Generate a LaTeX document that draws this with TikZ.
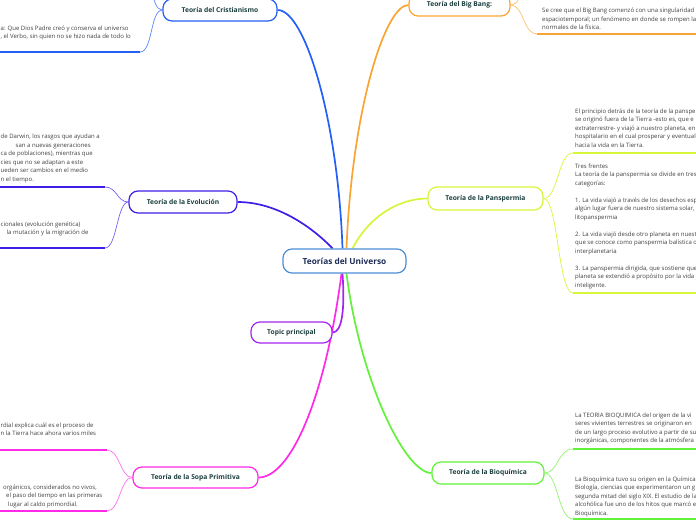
\documentclass[tikz,border=0pt]{standalone}
\usepackage{fontspec}
\setmainfont{Open Sans}
\usetikzlibrary{backgrounds}
\definecolor{cblue}{HTML}{2460F5}
\definecolor{cbluel}{HTML}{5E86F7}
\definecolor{corange}{HTML}{F9A534}
\definecolor{corangel}{HTML}{FBC06E}
\definecolor{cindigo}{HTML}{3E1FE8}
\definecolor{cindigol}{HTML}{7A62F2}
\definecolor{cyellow}{HTML}{D9F53A}
\definecolor{cpurple}{HTML}{A526F0}
\definecolor{cmagenta}{HTML}{FF2AE6}
\definecolor{cmagental}{HTML}{FF70EE}
\definecolor{cgreen}{HTML}{62F23A}
\definecolor{cgreenl}{HTML}{8EF56E}
\definecolor{ccenter}{HTML}{4A8FD4}
\definecolor{nodetext}{HTML}{1C3F3F}
\definecolor{centertext}{HTML}{1D2D55}
\definecolor{bodytext}{HTML}{404040}
\tikzset{
  topic/.style={draw, rounded corners=9pt, line width=1.2pt, fill=white,
    font=\fontsize{6.7}{8}\selectfont\bfseries, text=nodetext, inner sep=0pt,
    minimum height=22pt},
  body/.style={font=\fontsize{6}{8.5}\selectfont, text=bodytext, align=left,
    inner sep=0pt, anchor=north west},
  conn/.style={line width=1.7pt},
  sub/.style={line width=0.7pt},
  uline/.style={line width=1.8pt}
}
\begin{document}
\begin{tikzpicture}[x=1pt,y=-1pt]
\useasboundingbox (0,0) rectangle (696,520);
\node[topic, draw=ccenter, fill=white, minimum width=123pt, minimum height=24pt,
  font=\fontsize{8.3}{9}\selectfont\bfseries, text=centertext] (U) at (344.5,261) {Teorías del Universo};
\node[topic, draw=cblue, minimum width=114pt] (C) at (220,10) {Teoría del Cristianismo};
\node[topic, draw=corange, minimum width=101pt] (B) at (459.5,5) {Teoría del Big Bang:};
\node[topic, draw=cindigo, minimum width=108pt] (E) at (183,202) {Teoría de la Evolución};
\node[topic, draw=cyellow, minimum width=115pt, minimum height=23pt] (P) at (485.5,198.5) {Teoría de la Panspermia};
\node[topic, draw=cpurple, minimum width=81pt, minimum height=21pt] (T) at (291.5,332.5) {Topic principal};
\node[topic, draw=cmagenta, minimum width=125pt, minimum height=21pt] (S) at (195.5,477.5) {Teoría de la Sopa Primitiva};
\node[topic, draw=cgreen, minimum width=112pt] (Q) at (488,473) {Teoría de la Bioquímica};

% sub-branch coordinates
\coordinate (c1) at (140,52);   \coordinate (c0) at (0,52);
\coordinate (cu) at (140,-30);
\coordinate (b1) at (537,34);   \coordinate (b0) at (696,34);
\coordinate (bu) at (537,-30);
\coordinate (e1) at (105,187);  \coordinate (e0) at (0,187);
\coordinate (e2) at (105,248);  \coordinate (e3) at (0,248);
\coordinate (p1) at (573,153);  \coordinate (p0) at (696,153);
\coordinate (p2) at (573,293);  \coordinate (p3) at (696,293);
\coordinate (s1) at (107,450);  \coordinate (s0) at (0,450);
\coordinate (s2) at (107,511);  \coordinate (s3) at (0,511);
\coordinate (q1) at (573,449);  \coordinate (q0) at (696,449);
\coordinate (q2) at (573,519);  \coordinate (q3) at (696,519);

\begin{scope}[on background layer]
\clip (0,0) rectangle (696,520);
\draw[conn, cblue] ([xshift=-2pt]U.north) .. controls (338,120) and (305,10) .. (C.east);
\draw[conn, corange] ([xshift=2pt]U.north) .. controls (352,110) and (385,5) .. (B.west);
\draw[conn, cindigo] ([xshift=-12pt]U.north) .. controls (310,225) and (275,202) .. (E.east);
\draw[conn, cyellow] ([xshift=8pt]U.north) .. controls (370,215) and (400,198.5) .. (P.west);
\draw[conn, cpurple] ([xshift=-2pt]U.south) .. controls (345,310) and (342,332.5) .. (T.east);
\draw[conn, cmagenta] ([xshift=-3pt]U.south) .. controls (325,400) and (290,477.5) .. (S.east);
\draw[conn, cgreen] ([xshift=2pt]U.south) .. controls (360,380) and (405,473) .. (Q.west);

\draw[sub, cbluel] (C.west) .. controls (150,10) and (153,52) .. (c1);
\draw[sub, cbluel] (C.west) .. controls (150,10) and (153,-30) .. (cu);
\draw[uline, cblue] (c1) -- (c0);

\draw[sub, corangel] (B.east) .. controls (524,5) and (523,34) .. (b1);
\draw[sub, corangel] (B.east) .. controls (524,5) and (523,-30) .. (bu);
\draw[uline, corange] (b1) -- (b0);

\draw[sub, cindigol] (E.west) .. controls (117,202) and (117,187) .. (e1);
\draw[sub, cindigol] (E.west) .. controls (117,202) and (117,248) .. (e2);
\draw[uline, cindigo] (e1) -- (e0);
\draw[uline, cindigo] (e2) -- (e3);

\draw[sub, cyellow] (P.east) .. controls (558,198.5) and (558,153) .. (p1);
\draw[sub, cyellow] (P.east) .. controls (558,198.5) and (558,293) .. (p2);
\draw[uline, cyellow] (p1) -- (p0);
\draw[uline, cyellow] (p2) -- (p3);

\draw[sub, cmagental] (S.west) .. controls (120,477.5) and (120,450) .. (s1);
\draw[sub, cmagental] (S.west) .. controls (120,477.5) and (120,511) .. (s2);
\draw[uline, cmagenta] (s1) -- (s0);
\draw[uline, cmagenta] (s2) -- (s3);

\draw[sub, cgreenl] (Q.east) .. controls (558,473) and (558,449) .. (q1);
\draw[sub, cgreenl] (Q.east) .. controls (558,473) and (558,519) .. (q2);
\draw[uline, cgreen] (q1) -- (q0);
\draw[uline, cgreen] (q2) -- (q3);
\end{scope}

% text blocks
\begin{scope}
\clip (0,0) rectangle (696,520);
\node[body] (tc) at (0.5,25.5) {a: Que Dios Padre creó y conserva el universo\\, el Verbo, sin quien no se hizo nada de todo lo};
\node[body] (tb) at (542,8) {Se cree que el Big Bang comenzó con una singularidad\\espaciotemporal; un fenómeno en donde se rompen las\\normales de la física.};
\node[body] (te1) at (0.5,134) {de Darwin, los rasgos que ayudan a\\\hspace*{15pt}san a nuevas generaciones\\ca de poblaciones), mientras que\\cies que no se adaptan a este\\ueden ser cambios en el medio\\n el tiempo.};
\node[body] (te2) at (0.5,221.5) {cionales (evolución genética)\\\hspace*{6pt}la mutación y la migración de};
\node[body] (tp1) at (575,108.5) {El principio detrás de la teoría de la panspe\\se originó fuera de la Tierra -esto es, que e\\extraterrestre- y viajó a nuestro planeta, en\\hospitalario en el cual prosperar y eventual\\hacia la vida en la Tierra.};
\node[body] (tp2) at (575,163.5) {Tres frentes\\La teoría de la panspermia se divide en tres\\categorías:\\[8.5pt]1. La vida viajó a través de los desechos esp\\algún lugar fuera de nuestro sistema solar,\\litopanspermia\\[8.5pt]2. La vida viajó desde otro planeta en nuesto\\que se conoce como panspermia balística o\\interplanetaria\\[8.5pt]3. La panspermia dirigida, que sostiene que\\planeta se extendió a propósito por la vida y\\inteligente.};
\node[body] (ts1) at (0.5,422.5) {rdial explica cuál es el proceso de\\n la Tierra hace ahora varios miles};
\node[body] (ts2) at (3,484.5) {orgánicos, considerados no vivos,\\\hspace*{3pt}el paso del tiempo en las primeras\\\hspace*{5pt}lugar al caldo primordial.};
\node[body] (tq1) at (575,412.5) {La TEORIA BIOQUIMICA del origen de la vi\\seres vivientes terrestres se originaron en\\de un largo proceso evolutivo a partir de su\\inorgánicas, componentes de la atmósfera};
\node[body] (tq2) at (575,476.5) {La Bioquímica tuvo su origen en la Química\\Biología, ciencias que experimentaron un g\\segunda mitad del siglo XIX. El estudio de la\\alcohólica fue uno de los hitos que marcó e\\Bioquímica.};
\end{scope}
\end{tikzpicture}
\end{document}
